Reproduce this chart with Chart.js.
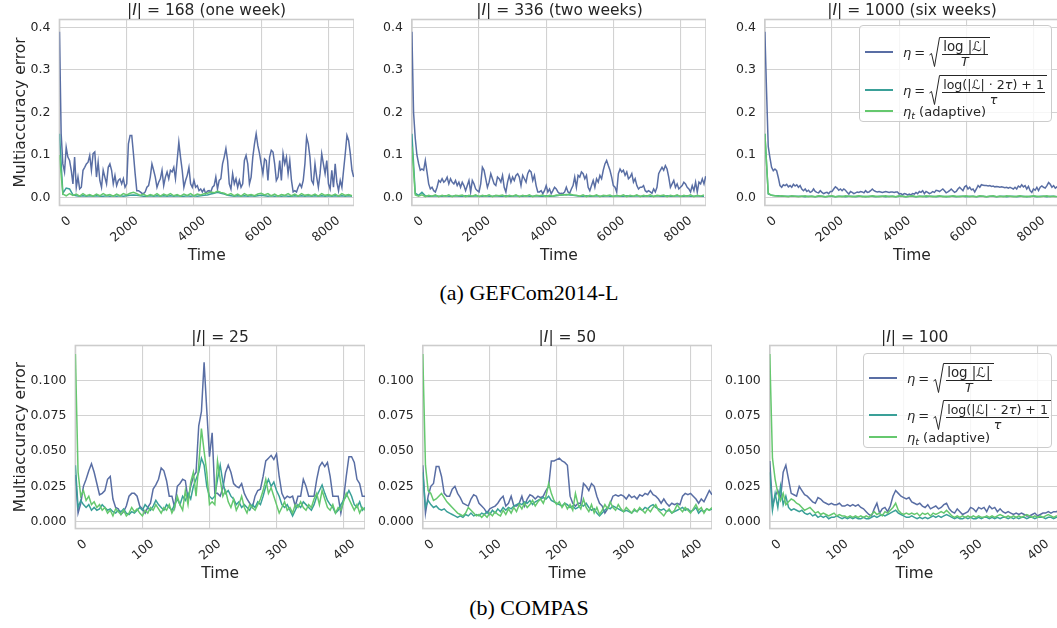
<!DOCTYPE html>
<html>
<head>
<meta charset="utf-8">
<script src="https://cdn.jsdelivr.net/npm/chart.js@4.4.1/dist/chart.umd.min.js"></script>
<style>
html,body{margin:0;padding:0;background:#fff;width:1057px;height:628px;overflow:hidden;font-family:"DejaVu Sans",sans-serif;color:#262626;}
.wrap{position:absolute;}
.wrap canvas{display:block;}
.ttl{position:absolute;font-size:15.5px;line-height:15.5px;white-space:nowrap;transform:translateX(-50%);}
.cap{position:absolute;font-family:"Liberation Serif","Times New Roman",serif;font-size:22px;line-height:22px;white-space:nowrap;transform:translateX(-50%);color:#000;}
.legend{position:absolute;background:rgba(255,255,255,0.8);border:1px solid #cccccc;border-radius:4px;box-sizing:border-box;z-index:5;}
.lrow{position:absolute;left:0;right:0;display:flex;align-items:center;font-size:13px;white-space:nowrap;}
.sw{display:inline-block;width:28px;height:2px;margin-left:5px;margin-right:10px;flex:none;}
.mi{font-style:italic;}
.eq{margin:0 4px 0 3px;}
.sq{display:inline-flex;align-items:flex-start;}
.sq svg{display:block;flex:none;}
.fr{display:inline-flex;flex-direction:column;align-items:center;border-top:1px solid #262626;padding:2px 2px 0 2px;}
.nu{border-bottom:1px solid #262626;padding:0 1px 1px 1px;line-height:13px;font-size:12.6px;}
.nu1{font-size:13.4px;}
.de{line-height:12px;font-size:12.6px;padding-top:1px;}
sub{font-size:9.5px;vertical-align:-3px;line-height:0;}
</style>
</head>
<body>
<script>
// ---------------- DATA ----------------
const seriesNames = ['η = sqrt(log|L|/T)', 'η = sqrt((log(|L|·2τ)+1)/τ)', 'η_t (adaptive)'];
const gefFineStep = 50;     // hours between samples of the fixed-η series
const gefCoarseStep = 100;  // hours between samples of the other two series
const compasStep = 4;
const gefXTicks = [0, 2000, 4000, 6000, 8000];
const compasXTicks = [0, 100, 200, 300, 400];
const gefYTicks = [0.0, 0.1, 0.2, 0.3, 0.4];
const compasYTicks = [0.000, 0.025, 0.050, 0.075, 0.100];

// GEFCom2014-L, |I| = 168
const gef168Blue = [0.39,0.15,0.079,0.060,0.118,0.095,0.087,0.064,0.032,0.095,
0.024,0.048,0.020,0.024,0.064,0.071,0.079,0.083,0.099,0.064,
0.103,0.107,0.048,0.083,0.040,0.024,0.064,0.048,0.032,0.071,
0.079,0.064,0.032,0.052,0.028,0.040,0.044,0.032,0.044,0.024,
0.032,0.126,0.146,0.146,0.103,0.056,0.016,0.016,0.013,0.010,
0.009,0.013,0.024,0.028,0.048,0.079,0.064,0.048,0.024,0.036,
0.044,0.064,0.028,0.048,0.060,0.044,0.064,0.060,0.071,0.044,
0.087,0.130,0.095,0.064,0.024,0.040,0.052,0.071,0.032,0.024,
0.040,0.024,0.028,0.016,0.020,0.013,0.020,0.009,0.015,0.016,
0.013,0.024,0.028,0.048,0.020,0.040,0.044,0.079,0.095,0.115,
0.087,0.032,0.020,0.056,0.032,0.044,0.024,0.040,0.024,0.032,
0.087,0.099,0.079,0.032,0.048,0.095,0.126,0.150,0.122,0.103,
0.079,0.056,0.091,0.087,0.040,0.095,0.111,0.107,0.079,0.040,
0.048,0.087,0.040,0.103,0.079,0.095,0.056,0.087,0.040,0.013,
0.016,0.013,0.024,0.032,0.024,0.040,0.079,0.142,0.126,0.095,
0.040,0.032,0.079,0.048,0.024,0.056,0.103,0.079,0.056,0.087,
0.032,0.020,0.064,0.024,0.079,0.036,0.016,0.040,0.024,0.064,
0.103,0.146,0.134,0.103,0.064,0.048];
const gef168Teal = [0.150,0.010,0.022,0.020,0.006,0.004,0.003,0.004,0.003,0.004,
0.003,0.004,0.003,0.003,0.004,0.003,0.004,0.003,0.004,0.003,
0.004,0.005,0.006,0.005,0.004,0.003,0.003,0.004,0.003,0.004,
0.003,0.004,0.003,0.004,0.003,0.004,0.003,0.003,0.004,0.003,
0.004,0.003,0.004,0.005,0.006,0.008,0.010,0.012,0.010,0.008,
0.005,0.004,0.003,0.004,0.003,0.004,0.003,0.004,0.003,0.004,
0.005,0.004,0.003,0.004,0.003,0.004,0.003,0.004,0.003,0.003,
0.004,0.003,0.004,0.003,0.004,0.003,0.004,0.003,0.004,0.003,
0.004,0.003,0.004,0.003,0.004,0.003,0.004,0.003];
const gef168Green = [0.100,0.008,0.004,0.009,0.005,0.008,0.003,0.009,0.004,0.007,
0.003,0.008,0.004,0.009,0.005,0.007,0.003,0.008,0.004,0.009,
0.006,0.010,0.012,0.009,0.005,0.008,0.003,0.007,0.004,0.009,
0.003,0.008,0.005,0.009,0.004,0.007,0.003,0.008,0.005,0.009,
0.004,0.008,0.006,0.009,0.010,0.013,0.011,0.015,0.012,0.010,
0.006,0.009,0.004,0.008,0.003,0.009,0.005,0.007,0.004,0.008,
0.010,0.006,0.009,0.004,0.008,0.003,0.007,0.005,0.009,0.004,
0.008,0.003,0.009,0.005,0.007,0.004,0.008,0.003,0.009,0.005,
0.007,0.004,0.008,0.003,0.009,0.005,0.007,0.004];

// GEFCom2014-L, |I| = 336
const gef336Blue = [0.39,0.20,0.14,0.10,0.080,0.064,0.067,0.064,0.087,0.060,
0.032,0.020,0.024,0.016,0.013,0.024,0.040,0.036,0.044,0.036,
0.040,0.048,0.032,0.044,0.036,0.032,0.040,0.028,0.036,0.024,
0.036,0.028,0.016,0.028,0.040,0.013,0.040,0.032,0.020,0.016,
0.013,0.032,0.071,0.064,0.044,0.024,0.036,0.056,0.044,0.032,
0.028,0.048,0.044,0.036,0.052,0.024,0.013,0.036,0.052,0.036,
0.048,0.040,0.052,0.056,0.048,0.028,0.052,0.044,0.036,0.056,
0.064,0.060,0.040,0.052,0.028,0.013,0.013,0.016,0.009,0.016,
0.028,0.013,0.020,0.009,0.016,0.024,0.020,0.013,0.009,0.010,
0.009,0.013,0.024,0.013,0.010,0.020,0.028,0.048,0.024,0.052,
0.048,0.060,0.056,0.044,0.052,0.024,0.016,0.028,0.040,0.024,
0.044,0.036,0.052,0.044,0.064,0.079,0.087,0.075,0.064,0.048,
0.028,0.024,0.013,0.056,0.067,0.060,0.064,0.052,0.060,0.044,
0.048,0.056,0.036,0.044,0.028,0.020,0.024,0.024,0.028,0.016,
0.013,0.016,0.013,0.010,0.020,0.013,0.024,0.056,0.064,0.071,
0.064,0.075,0.067,0.048,0.024,0.032,0.040,0.024,0.032,0.020,
0.024,0.028,0.036,0.032,0.024,0.020,0.013,0.028,0.016,0.036,
0.013,0.036,0.032,0.044,0.032,0.050];
const gef336Teal = [0.150,0.010,0.005,0.012,0.004,0.003,0.003,0.004,0.003,0.003,
0.004,0.003,0.003,0.004,0.003,0.003,0.004,0.003,0.003,0.004,
0.003,0.003,0.004,0.003,0.003,0.004,0.003,0.003,0.004,0.003,
0.003,0.004,0.003,0.003,0.004,0.003,0.003,0.004,0.003,0.003,
0.004,0.003,0.003,0.004,0.005,0.006,0.007,0.006,0.005,0.004,
0.003,0.003,0.004,0.003,0.003,0.004,0.003,0.003,0.004,0.003,
0.003,0.004,0.003,0.003,0.004,0.003,0.003,0.004,0.003,0.003,
0.004,0.003,0.003,0.004,0.003,0.003,0.004,0.003,0.003,0.004,
0.003,0.003,0.004,0.003,0.003,0.004,0.003,0.003];
const gef336Green = [0.120,0.006,0.003,0.006,0.002,0.005,0.003,0.006,0.002,0.005,
0.003,0.006,0.002,0.005,0.004,0.006,0.002,0.005,0.003,0.006,
0.002,0.005,0.003,0.006,0.002,0.005,0.004,0.006,0.002,0.005,
0.003,0.006,0.002,0.005,0.003,0.006,0.002,0.005,0.004,0.006,
0.002,0.005,0.003,0.006,0.005,0.007,0.006,0.008,0.006,0.005,
0.003,0.006,0.002,0.005,0.003,0.006,0.002,0.005,0.004,0.006,
0.002,0.005,0.003,0.006,0.002,0.005,0.003,0.006,0.002,0.005,
0.003,0.006,0.002,0.005,0.004,0.006,0.002,0.005,0.003,0.006,
0.002,0.005,0.003,0.006,0.002,0.005,0.003,0.006];

// GEFCom2014-L, |I| = 1000
const gef1000Blue = [0.39,0.25,0.12,0.094,0.071,0.063,0.067,0.063,0.047,0.028,
0.024,0.030,0.028,0.031,0.025,0.028,0.024,0.031,0.027,0.030,
0.024,0.028,0.020,0.016,0.020,0.014,0.017,0.012,0.014,0.020,
0.014,0.012,0.011,0.016,0.012,0.009,0.011,0.012,0.009,0.014,
0.014,0.020,0.025,0.022,0.017,0.020,0.016,0.020,0.017,0.012,
0.008,0.014,0.012,0.009,0.011,0.013,0.012,0.014,0.013,0.011,
0.016,0.012,0.013,0.016,0.020,0.016,0.014,0.013,0.014,0.013,
0.012,0.013,0.014,0.013,0.012,0.013,0.013,0.012,0.013,0.013,
0.008,0.009,0.006,0.009,0.008,0.006,0.008,0.006,0.009,0.008,
0.012,0.009,0.014,0.012,0.016,0.009,0.014,0.012,0.009,0.011,
0.014,0.012,0.017,0.016,0.014,0.017,0.020,0.016,0.011,0.013,
0.016,0.020,0.016,0.012,0.014,0.020,0.024,0.020,0.016,0.025,
0.028,0.020,0.024,0.018,0.020,0.013,0.020,0.028,0.024,0.030,
0.029,0.028,0.028,0.027,0.028,0.026,0.027,0.025,0.026,0.025,
0.024,0.025,0.024,0.023,0.024,0.022,0.024,0.022,0.020,0.024,
0.020,0.027,0.024,0.030,0.025,0.028,0.020,0.026,0.016,0.012,
0.020,0.017,0.024,0.016,0.024,0.027,0.024,0.022,0.028,0.035,
0.031,0.024,0.028,0.022,0.025,0.024];
const gef1000Teal = [0.150,0.008,0.005,0.004,0.004,0.003,0.003,0.003,0.003,0.003,
0.003,0.003,0.002,0.003,0.003,0.002,0.003,0.003,0.002,0.003,
0.003,0.002,0.003,0.003,0.002,0.003,0.003,0.002,0.003,0.003,
0.002,0.003,0.003,0.002,0.003,0.003,0.002,0.003,0.003,0.002,
0.003,0.003,0.002,0.003,0.003,0.002,0.003,0.003,0.002,0.003,
0.003,0.002,0.003,0.003,0.002,0.003,0.003,0.002,0.003,0.003,
0.002,0.003,0.003,0.002,0.003,0.003,0.002,0.003,0.003,0.002,
0.003,0.003,0.002,0.003,0.003,0.002,0.003,0.003,0.002,0.003,
0.003,0.002,0.003,0.003,0.002,0.003,0.003,0.002];
const gef1000Green = [0.150,0.010,0.005,0.004,0.003,0.004,0.003,0.002,0.004,0.003,
0.002,0.003,0.004,0.002,0.003,0.002,0.004,0.003,0.002,0.003,
0.004,0.002,0.003,0.002,0.004,0.003,0.002,0.003,0.004,0.002,
0.003,0.002,0.004,0.003,0.002,0.003,0.004,0.002,0.003,0.002,
0.004,0.003,0.002,0.003,0.004,0.002,0.003,0.002,0.004,0.003,
0.002,0.003,0.004,0.002,0.003,0.002,0.004,0.003,0.002,0.003,
0.004,0.002,0.003,0.002,0.004,0.003,0.002,0.003,0.004,0.002,
0.003,0.002,0.004,0.003,0.002,0.003,0.004,0.002,0.003,0.002,
0.004,0.003,0.002,0.003,0.004,0.002,0.003,0.002];

// COMPAS, |I| = 25
const compas25Blue = [0.033,0.006,0.013,0.025,0.030,0.036,0.041,0.035,0.027,0.019,
0.020,0.022,0.030,0.032,0.016,0.010,0.009,0.005,0.007,0.011,
0.018,0.020,0.020,0.018,0.011,0.009,0.006,0.010,0.013,0.023,
0.026,0.030,0.038,0.036,0.029,0.018,0.018,0.010,0.025,0.027,
0.030,0.029,0.016,0.025,0.032,0.035,0.068,0.078,0.113,0.079,
0.046,0.063,0.020,0.020,0.018,0.024,0.035,0.040,0.035,0.027,
0.025,0.024,0.027,0.020,0.016,0.013,0.010,0.018,0.022,0.023,
0.032,0.043,0.045,0.047,0.044,0.048,0.032,0.020,0.016,0.018,
0.017,0.018,0.011,0.018,0.018,0.030,0.025,0.018,0.018,0.018,
0.030,0.039,0.042,0.039,0.042,0.032,0.018,0.018,0.018,0.006,
0.016,0.032,0.046,0.046,0.042,0.030,0.027,0.018,0.018];
const compas25Teal = [0.040,0.010,0.015,0.012,0.010,0.012,0.008,0.010,0.008,0.009,
0.012,0.010,0.008,0.009,0.007,0.006,0.008,0.007,0.009,0.006,
0.005,0.007,0.006,0.008,0.010,0.008,0.012,0.010,0.008,0.011,
0.015,0.012,0.010,0.008,0.012,0.010,0.008,0.012,0.016,0.012,
0.018,0.015,0.020,0.016,0.025,0.030,0.035,0.045,0.040,0.025,
0.018,0.016,0.018,0.030,0.040,0.028,0.020,0.022,0.018,0.016,
0.012,0.014,0.010,0.012,0.010,0.008,0.012,0.010,0.014,0.012,
0.018,0.025,0.030,0.025,0.028,0.022,0.018,0.012,0.010,0.012,
0.008,0.004,0.008,0.012,0.010,0.014,0.012,0.010,0.008,0.012,
0.018,0.022,0.026,0.020,0.015,0.012,0.010,0.006,0.008,0.012,
0.015,0.018,0.022,0.018,0.012,0.010,0.014,0.008,0.010];
const compas25Green = [0.119,0.035,0.018,0.022,0.015,0.018,0.012,0.014,0.010,0.012,
0.008,0.010,0.006,0.008,0.004,0.009,0.007,0.005,0.008,0.004,
0.006,0.010,0.007,0.009,0.006,0.004,0.008,0.006,0.010,0.008,
0.012,0.009,0.006,0.010,0.008,0.012,0.006,0.010,0.018,0.012,
0.008,0.022,0.012,0.028,0.035,0.018,0.040,0.066,0.050,0.035,
0.012,0.014,0.012,0.043,0.030,0.018,0.022,0.014,0.010,0.016,
0.008,0.012,0.018,0.010,0.006,0.012,0.010,0.008,0.012,0.016,
0.022,0.030,0.020,0.024,0.018,0.012,0.006,0.010,0.014,0.008,
0.010,0.006,0.012,0.010,0.014,0.010,0.008,0.012,0.010,0.016,
0.020,0.012,0.022,0.016,0.010,0.008,0.012,0.006,0.010,0.008,
0.014,0.020,0.016,0.012,0.008,0.012,0.006,0.010,0.008];

// COMPAS, |I| = 50
const compas50Blue = [0.040,0.006,0.018,0.025,0.027,0.039,0.039,0.032,0.020,0.018,
0.018,0.023,0.025,0.020,0.017,0.013,0.012,0.011,0.016,0.019,
0.018,0.013,0.011,0.009,0.006,0.009,0.010,0.011,0.013,0.016,
0.018,0.011,0.013,0.018,0.011,0.011,0.013,0.018,0.011,0.016,
0.019,0.018,0.016,0.018,0.017,0.018,0.022,0.025,0.043,0.043,
0.044,0.045,0.043,0.042,0.040,0.018,0.013,0.011,0.013,0.013,
0.027,0.025,0.022,0.027,0.025,0.018,0.013,0.011,0.006,0.009,
0.013,0.018,0.019,0.018,0.019,0.018,0.016,0.019,0.017,0.018,
0.016,0.019,0.018,0.020,0.019,0.022,0.019,0.018,0.016,0.013,
0.016,0.013,0.011,0.013,0.012,0.013,0.012,0.018,0.020,0.019,
0.020,0.018,0.016,0.013,0.016,0.014,0.018,0.022,0.019];
const compas50Teal = [0.035,0.010,0.015,0.012,0.010,0.011,0.009,0.008,0.009,0.007,
0.006,0.005,0.004,0.003,0.004,0.003,0.005,0.004,0.006,0.004,
0.005,0.004,0.006,0.005,0.007,0.005,0.008,0.006,0.009,0.007,
0.010,0.008,0.010,0.009,0.011,0.012,0.013,0.012,0.014,0.013,
0.015,0.012,0.014,0.015,0.016,0.017,0.016,0.018,0.015,0.014,
0.013,0.012,0.011,0.013,0.012,0.010,0.011,0.009,0.010,0.012,
0.011,0.013,0.010,0.008,0.009,0.006,0.004,0.006,0.008,0.010,
0.009,0.011,0.010,0.009,0.008,0.007,0.008,0.007,0.006,0.008,
0.007,0.009,0.008,0.010,0.009,0.011,0.012,0.010,0.009,0.008,
0.009,0.007,0.008,0.006,0.007,0.008,0.009,0.010,0.008,0.009,
0.007,0.008,0.010,0.006,0.008,0.007,0.009,0.008,0.009];
const compas50Green = [0.119,0.040,0.022,0.020,0.015,0.016,0.018,0.020,0.017,0.014,
0.012,0.010,0.008,0.006,0.005,0.004,0.006,0.010,0.008,0.006,
0.004,0.005,0.003,0.005,0.003,0.006,0.004,0.007,0.005,0.004,
0.008,0.005,0.009,0.006,0.010,0.007,0.012,0.009,0.013,0.010,
0.012,0.015,0.011,0.014,0.016,0.013,0.018,0.027,0.020,0.015,
0.012,0.014,0.010,0.013,0.009,0.012,0.008,0.020,0.012,0.009,
0.016,0.010,0.007,0.012,0.006,0.010,0.005,0.008,0.012,0.009,
0.014,0.010,0.008,0.012,0.009,0.007,0.010,0.008,0.006,0.009,
0.007,0.010,0.008,0.006,0.009,0.007,0.010,0.012,0.008,0.006,
0.004,0.007,0.009,0.006,0.008,0.012,0.009,0.007,0.010,0.008,
0.006,0.009,0.012,0.008,0.010,0.006,0.009,0.008,0.010];

// COMPAS, |I| = 100
const compas100Blue = [0.043,0.011,0.018,0.022,0.016,0.035,0.040,0.030,0.020,0.019,
0.018,0.025,0.022,0.019,0.018,0.016,0.014,0.013,0.017,0.016,
0.014,0.013,0.012,0.013,0.012,0.012,0.013,0.011,0.011,0.012,
0.011,0.012,0.011,0.012,0.010,0.009,0.007,0.005,0.004,0.009,
0.013,0.006,0.009,0.010,0.007,0.011,0.018,0.022,0.020,0.018,
0.017,0.016,0.017,0.014,0.013,0.012,0.013,0.011,0.010,0.012,
0.009,0.010,0.011,0.009,0.010,0.012,0.013,0.009,0.007,0.006,
0.009,0.007,0.005,0.006,0.007,0.010,0.009,0.007,0.010,0.009,
0.010,0.007,0.011,0.009,0.010,0.007,0.009,0.007,0.006,0.007,
0.006,0.005,0.006,0.005,0.006,0.005,0.004,0.004,0.005,0.006,
0.004,0.005,0.006,0.006,0.007,0.006,0.007,0.007,0.008];
const compas100Teal = [0.035,0.008,0.020,0.010,0.025,0.012,0.018,0.010,0.008,0.009,
0.008,0.007,0.008,0.006,0.005,0.006,0.004,0.005,0.003,0.004,
0.003,0.004,0.002,0.003,0.003,0.004,0.003,0.002,0.003,0.002,
0.003,0.002,0.003,0.002,0.002,0.003,0.002,0.002,0.003,0.004,
0.003,0.004,0.005,0.004,0.005,0.006,0.007,0.008,0.006,0.005,
0.004,0.003,0.003,0.004,0.003,0.002,0.003,0.002,0.003,0.002,
0.003,0.004,0.003,0.004,0.003,0.004,0.005,0.004,0.003,0.002,
0.003,0.002,0.002,0.003,0.002,0.003,0.002,0.002,0.003,0.002,
0.003,0.003,0.002,0.003,0.002,0.003,0.002,0.003,0.003,0.002,
0.003,0.002,0.003,0.002,0.003,0.003,0.002,0.003,0.003,0.002,
0.003,0.003,0.003,0.002,0.003,0.003,0.002,0.003,0.003];
const compas100Green = [0.119,0.045,0.030,0.020,0.015,0.020,0.012,0.014,0.016,0.015,
0.013,0.012,0.010,0.008,0.009,0.010,0.008,0.006,0.007,0.005,
0.006,0.005,0.004,0.005,0.006,0.004,0.005,0.004,0.004,0.003,
0.004,0.003,0.004,0.003,0.004,0.003,0.004,0.003,0.005,0.007,
0.005,0.006,0.004,0.007,0.006,0.008,0.010,0.013,0.008,0.006,
0.005,0.006,0.005,0.006,0.005,0.006,0.004,0.006,0.005,0.006,
0.004,0.006,0.005,0.006,0.007,0.006,0.008,0.006,0.004,0.003,
0.004,0.003,0.004,0.003,0.004,0.003,0.004,0.003,0.004,0.003,
0.003,0.004,0.003,0.004,0.003,0.004,0.005,0.004,0.003,0.004,
0.003,0.004,0.003,0.004,0.003,0.004,0.005,0.004,0.003,0.004,
0.003,0.004,0.003,0.004,0.005,0.004,0.003,0.004,0.004];

// ---------------- STYLE ----------------
const COLORS = ['#596ea4', '#3aa098', '#65c86e'];
const TXT = '#262626';
const GRID = '#d2d2d2';
const FONT = '"DejaVu Sans", sans-serif';

const framePlugin = {
  id: 'frame',
  beforeDatasetsDraw(chart) {
    const a = chart.chartArea, c = chart.ctx;
    c.save();
    c.strokeStyle = '#cccccc';
    c.lineWidth = 1.6;
    c.strokeRect(a.left, a.top, a.right - a.left, a.bottom - a.top);
    c.restore();
  }
};

function toXY(vals, step) {
  return vals.map((v, i) => ({x: i * step, y: v}));
}

function makeConfig(p) {
  const ds = [
    {data: toXY(p.s1, p.step1), borderColor: COLORS[0], order: 3},
    {data: toXY(p.s2, p.step2), borderColor: COLORS[1], order: 2},
    {data: toXY(p.s3, p.step2), borderColor: COLORS[2], order: 1}
  ].map((d, i) => Object.assign(d, {label: seriesNames[i], borderWidth: 1.5, pointRadius: 0, tension: 0, fill: false}));
  const xt = p.xticks, yt = p.yticks;
  return {
    type: 'line',
    data: {datasets: ds},
    options: {
      responsive: false,
      maintainAspectRatio: false,
      animation: false,
      events: [],
      layout: {padding: 0},
      plugins: {legend: {display: false}, title: {display: false}, tooltip: {enabled: false}},
      scales: {
        x: {
          type: 'linear', min: 0, max: p.xmax,
          afterBuildTicks: s => { s.ticks = xt.map(v => ({value: v})); },
          ticks: {minRotation: 40, maxRotation: 40, padding: 8, labelOffset: 10, color: TXT,
                  font: {family: FONT, size: 12.5}, callback: v => String(v)},
          grid: {color: GRID, lineWidth: 1.1, drawTicks: false},
          border: {display: false},
          title: {display: true, text: 'Time', color: TXT, font: {family: FONT, size: 15.5}, padding: {top: -7, bottom: 0}}
        },
        y: {
          type: 'linear', min: p.ymin, max: p.ymax,
          afterBuildTicks: s => { s.ticks = yt.map(v => ({value: v})); },
          ticks: {padding: 9, color: TXT, font: {family: FONT, size: 12.5}, callback: v => v.toFixed(p.dec)},
          grid: {color: GRID, lineWidth: 1.1, drawTicks: false},
          border: {display: false},
          title: {display: !!p.ylabel, text: 'Multiaccuracy error', color: TXT, font: {family: FONT, size: 15.5}, padding: {top: 4, bottom: -9}}
        }
      }
    },
    plugins: [framePlugin]
  };
}

function buildPanel(p) {
  const wrap = document.createElement('div');
  wrap.className = 'wrap';
  document.body.appendChild(wrap);
  let w = Math.round(p.area.w + 80), h = Math.round(p.area.h + 70);
  let chart = null;
  for (let iter = 0; iter < 3; iter++) {
    if (chart) chart.destroy();
    wrap.innerHTML = '';
    const cv = document.createElement('canvas');
    cv.width = w; cv.height = h;
    cv.style.width = w + 'px'; cv.style.height = h + 'px';
    wrap.appendChild(cv);
    chart = new Chart(cv, makeConfig(p));
    const a = chart.chartArea;
    const lm = a.left, tm = a.top, rm = chart.width - a.right, bm = chart.height - a.bottom;
    wrap.style.left = (p.area.l - lm) + 'px';
    wrap.style.top = (p.area.t - tm) + 'px';
    const nw = Math.round(p.area.w + lm + rm), nh = Math.round(p.area.h + tm + bm);
    if (nw === w && nh === h) break;
    w = nw; h = nh;
  }
  return chart;
}

const gefY = {ymin: -0.0188, ymax: 0.4188, yticks: gefYTicks, dec: 1, xmax: 8760, xticks: gefXTicks, step1: gefFineStep, step2: gefCoarseStep};
const comY = {ymin: -0.005, ymax: 0.125, yticks: compasYTicks, dec: 3, xmax: 432, xticks: compasXTicks, step1: compasStep, step2: compasStep};

const panels = [
  Object.assign({area: {l: 59.3, t: 19, w: 294.3, h: 186}, s1: gef168Blue, s2: gef168Teal, s3: gef168Green, ylabel: true}, gefY),
  Object.assign({area: {l: 412.3, t: 19, w: 294.3, h: 186}, s1: gef336Blue, s2: gef336Teal, s3: gef336Green}, gefY),
  Object.assign({area: {l: 765, t: 19, w: 294.3, h: 186}, s1: gef1000Blue, s2: gef1000Teal, s3: gef1000Green}, gefY),
  Object.assign({area: {l: 75.3, t: 345.7, w: 289.4, h: 183.3}, s1: compas25Blue, s2: compas25Teal, s3: compas25Green, ylabel: true}, comY),
  Object.assign({area: {l: 422.7, t: 345.7, w: 289.4, h: 183.3}, s1: compas50Blue, s2: compas50Teal, s3: compas50Green}, comY),
  Object.assign({area: {l: 770, t: 345.7, w: 289.4, h: 183.3}, s1: compas100Blue, s2: compas100Teal, s3: compas100Green}, comY)
];
panels.forEach(buildPanel);
</script>

<div class="ttl" style="left:206.5px;top:3px;">|<i>I</i>| = 168 (one week)</div>
<div class="ttl" style="left:559.5px;top:3px;">|<i>I</i>| = 336 (two weeks)</div>
<div class="ttl" style="left:912px;top:3px;">|<i>I</i>| = 1000 (six weeks)</div>
<div class="ttl" style="left:220px;top:330px;">|<i>I</i>| = 25</div>
<div class="ttl" style="left:567.4px;top:330px;">|<i>I</i>| = 50</div>
<div class="ttl" style="left:914.7px;top:330px;">|<i>I</i>| = 100</div>

<div class="cap" style="left:529px;top:282px;">(a) GEFCom2014-L</div>
<div class="cap" style="left:529px;top:597px;">(b) COMPAS</div>

<div class="legend" style="left:859px;top:25px;width:193px;height:97px;">
  <div class="lrow" style="top:10px;height:32px;"><span class="sw" style="background:#596ea4"></span><span class="mi">η</span><span class="eq">=</span><span class="sq"><svg width="11" height="30"><path d="M0.5 18 L2.5 16.5 L5.5 29.5 L10.5 0.5 L11 0.5" fill="none" stroke="#262626" stroke-width="1"/></svg><span class="fr"><span class="nu nu1">log |<i>ℒ</i>|</span><span class="de"><i>T</i></span></span></span></div>
  <div class="lrow" style="top:48px;height:32px;"><span class="sw" style="background:#3aa098"></span><span class="mi">η</span><span class="eq">=</span><span class="sq"><svg width="11" height="30"><path d="M0.5 18 L2.5 16.5 L5.5 29.5 L10.5 0.5 L11 0.5" fill="none" stroke="#262626" stroke-width="1"/></svg><span class="fr"><span class="nu">log(|<i>ℒ</i>| · 2<i>τ</i>) + 1</span><span class="de"><i>τ</i></span></span></span></div>
  <div class="lrow" style="top:77px;height:16px;"><span class="sw" style="background:#65c86e"></span><span><span class="mi">η</span><sub class="mi">t</sub> (adaptive)</span></div>
</div>
<div class="legend" style="left:863px;top:353px;width:189px;height:95px;">
  <div class="lrow" style="top:8px;height:32px;"><span class="sw" style="background:#596ea4"></span><span class="mi">η</span><span class="eq">=</span><span class="sq"><svg width="11" height="30"><path d="M0.5 18 L2.5 16.5 L5.5 29.5 L10.5 0.5 L11 0.5" fill="none" stroke="#262626" stroke-width="1"/></svg><span class="fr"><span class="nu nu1">log |<i>ℒ</i>|</span><span class="de"><i>T</i></span></span></span></div>
  <div class="lrow" style="top:45px;height:32px;"><span class="sw" style="background:#3aa098"></span><span class="mi">η</span><span class="eq">=</span><span class="sq"><svg width="11" height="30"><path d="M0.5 18 L2.5 16.5 L5.5 29.5 L10.5 0.5 L11 0.5" fill="none" stroke="#262626" stroke-width="1"/></svg><span class="fr"><span class="nu">log(|<i>ℒ</i>| · 2<i>τ</i>) + 1</span><span class="de"><i>τ</i></span></span></span></div>
  <div class="lrow" style="top:75px;height:16px;"><span class="sw" style="background:#65c86e"></span><span><span class="mi">η</span><sub class="mi">t</sub> (adaptive)</span></div>
</div>
</body>
</html>
